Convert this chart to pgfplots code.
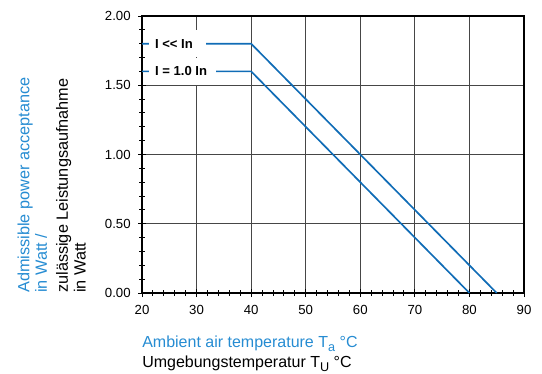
\documentclass[border=0pt]{standalone}
\usepackage{pgfplots}
\pgfplotsset{compat=1.18}
\usepackage{fontspec}
\setmainfont{Liberation Sans}

\definecolor{lineblue}{RGB}{16,108,182}
\definecolor{textblue}{RGB}{38,140,210}
\definecolor{gridc}{RGB}{70,70,70}

\newcommand{\sub}[1]{\raisebox{-0.45ex}{\fontsize{9.5}{9.5}\selectfont #1}}

\begin{document}
\begin{tikzpicture}
\begin{axis}[
    scale only axis,
    width=286.5pt, height=207.75pt,
    xmin=20, xmax=90, ymin=0, ymax=2,
    xtick={20,30,...,90},
    ytick={0,0.5,1,1.5,2},
    minor x tick num=4,
    minor y tick num=4,
    xtick pos=bottom, ytick pos=left,
    tick align=center,
    major tick length=6pt,
    minor tick length=4pt,
    every tick/.style={black, line width=0.7pt},
    axis line style={black, line width=0.8pt},
    grid=major,
    major grid style={gridc, line width=0.7pt},
    /pgf/number format/assume math mode=true,
    yticklabel style={/pgf/number format/fixed, /pgf/number format/precision=2,
        /pgf/number format/fixed zerofill, xshift=-2pt},
    xticklabel style={yshift=-3pt},
    tick label style={font=\fontsize{9.9}{11}\selectfont},
    clip=false,
]
\addplot[lineblue, line width=1.25pt] coordinates {(20,1.8) (40,1.8) (85,0)};
\addplot[lineblue, line width=1.25pt] coordinates {(20,1.6) (40,1.6) (80,0)};

\node[anchor=west, fill=white, inner xsep=0pt, inner ysep=0pt, minimum height=20pt,
      font=\fontsize{9.8}{11}\selectfont\bfseries]
      at (axis cs:21.25,1.8) {\hspace*{4.5pt}I {<}{<} In\hspace*{9.5pt}};
\node[anchor=west, fill=white, inner xsep=0pt, inner ysep=0pt, minimum height=20pt,
      font=\fontsize{9.8}{11}\selectfont\bfseries]
      at (axis cs:21.25,1.6) {\hspace*{4.5pt}I = 1.0 In\hspace*{6.5pt}};

% y label
\node[rotate=90, anchor=north west, inner sep=0pt, align=left,
      font=\fontsize{12.2}{13.2}\selectfont]
      at ([xshift=-93.5pt]rel axis cs:0,0)
      {\textcolor{textblue}{Admissible power acceptance}\\
       \textcolor{textblue}{in Watt /}\\[2.5pt]
       zulässige Leistungsaufnahme\\
       in Watt};

% x label
\node[anchor=north west, inner sep=0pt, align=left,
      font=\fontsize{12}{15}\selectfont]
      at ([yshift=-32pt]rel axis cs:0,0)
      {\textcolor{textblue}{Ambient air temperature T\sub{a} °C}\\
       Umgebungstemperatur T\sub{U} °C};

% picture extent
\path ([xshift=-106.5pt, yshift=-60pt]rel axis cs:0,0)
      ([xshift=13.5pt, yshift=12pt]rel axis cs:1,1);
\end{axis}
\end{tikzpicture}
\end{document}
